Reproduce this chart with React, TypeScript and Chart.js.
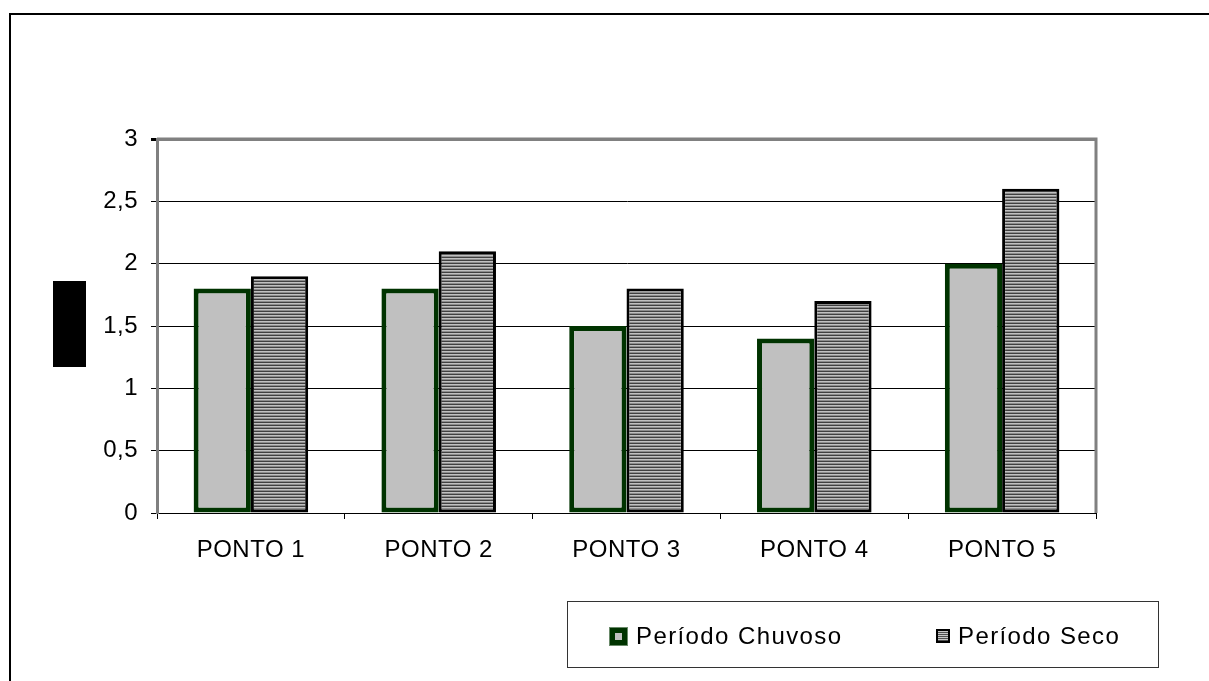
import React, { useEffect, useRef } from "react";
import { Chart, registerables } from "chart.js";

Chart.register(...registerables);

const categories = ["PONTO 1", "PONTO 2", "PONTO 3", "PONTO 4", "PONTO 5"];
const chuvoso = [1.8, 1.8, 1.5, 1.4, 2.0];
const seco = [1.9, 2.1, 1.8, 1.7, 2.6];
const seriesNames = ["Período Chuvoso", "Período Seco"];

function makeStripes(): CanvasPattern | string {
  const c = document.createElement("canvas");
  c.width = 4;
  c.height = 3;
  const g = c.getContext("2d");
  if (!g) return "#909090";
  g.fillStyle = "#c0c0c0";
  g.fillRect(0, 0, 4, 1);
  g.fillStyle = "#8c8c8c";
  g.fillRect(0, 1, 4, 1);
  g.fillStyle = "#404040";
  g.fillRect(0, 2, 4, 1);
  const p = g.createPattern(c, "repeat");
  return p || "#909090";
}

const framePlugin = {
  id: "frame",
  beforeDraw(chart: any) {
    chart.ctx.letterSpacing = "0.5px";
  },
  afterDraw(chart: any) {
    const { ctx, chartArea } = chart;
    ctx.save();
    ctx.strokeStyle = "#808080";
    ctx.lineWidth = 3;
    ctx.beginPath();
    ctx.moveTo(chartArea.left, chartArea.top);
    ctx.lineTo(chartArea.right, chartArea.top);
    ctx.lineTo(chartArea.right, chartArea.bottom);
    ctx.stroke();
    ctx.restore();
  },
};

const FONT = "Liberation Sans, Arial, sans-serif";

export default function App() {
  const ref = useRef<HTMLCanvasElement>(null);
  useEffect(() => {
    document.body.style.margin = "0";
    if (!ref.current) return;
    const stripes = makeStripes();
    const chart = new Chart(ref.current, {
      type: "bar",
      data: {
        labels: categories,
        datasets: [
          {
            label: seriesNames[0],
            data: chuvoso,
            backgroundColor: "#c0c0c0",
            borderColor: "#003300",
            borderWidth: 5,
            borderSkipped: false,
            categoryPercentage: 0.61,
            barPercentage: 1,
          },
          {
            label: seriesNames[1],
            data: seco,
            backgroundColor: stripes as any,
            borderColor: "#000000",
            borderWidth: 3,
            borderSkipped: false,
            categoryPercentage: 0.61,
            barPercentage: 1,
          },
        ],
      },
      options: {
        animation: false,
        responsive: false,
        maintainAspectRatio: false,
        layout: { padding: { left: 0, top: 139, right: 113, bottom: 0 } },
        plugins: {
          legend: { display: false },
          tooltip: { enabled: false },
          title: { display: false },
        },
        scales: {
          x: {
            afterFit: (s: any) => {
              s.height = 168;
            },
            grid: {
              offset: true,
              drawOnChartArea: false,
              drawTicks: true,
              tickLength: 6,
              tickColor: "#000",
            },
            border: { color: "#000", width: 1 },
            ticks: {
              color: "#000",
              padding: 17,
              font: { family: FONT, size: 24 },
            },
          },
          y: {
            min: 0,
            max: 3,
            afterFit: (s: any) => {
              s.width = 157;
            },
            grid: {
              color: (c: any) => (c.tick && c.tick.value === 3 ? "#808080" : "#000"),
              lineWidth: (c: any) => (c.tick && c.tick.value === 3 ? 3 : 1),
              tickLength: 6,
              tickColor: "#000",
            },
            border: { color: "#808080", width: 3 },
            ticks: {
              stepSize: 0.5,
              color: "#000",
              padding: 13,
              font: { family: FONT, size: 24 },
              callback: (v: any) => String(v).replace(".", ","),
            },
          },
        },
      },
      plugins: [framePlugin],
    });
    return () => chart.destroy();
  }, []);

  const legendText: React.CSSProperties = {
    position: "absolute",
    top: 621,
    fontFamily: FONT,
    fontSize: 24,
    letterSpacing: "1.4px",
    color: "#000",
    lineHeight: "30px",
    whiteSpace: "nowrap",
  };

  return (
    <div style={{ position: "relative", width: 1209, height: 681, overflow: "hidden", background: "#fff" }}>
      <canvas ref={ref} width={1209} height={681} style={{ position: "absolute", left: 0, top: 0 }} />
      <div
        style={{
          position: "absolute",
          left: 9,
          top: 13,
          width: 1300,
          height: 800,
          borderTop: "2px solid #000",
          borderLeft: "2px solid #000",
          pointerEvents: "none",
        }}
      />
      <div style={{ position: "absolute", left: 53, top: 281, width: 33, height: 86, background: "#000" }} />
      <div
        style={{
          position: "absolute",
          left: 567,
          top: 601,
          width: 592,
          height: 67,
          border: "1px solid #333",
          boxSizing: "border-box",
        }}
      />
      <div
        style={{
          position: "absolute",
          left: 609,
          top: 627,
          width: 19,
          height: 19,
          background: "#003300",
          boxSizing: "border-box",
          border: "1px solid #6a8a6a",
        }}
      >
        <div style={{ position: "absolute", left: 5, top: 5, width: 7, height: 7, background: "#c0c0c0" }} />
      </div>
      <div style={{ ...legendText, left: 636 }}>{seriesNames[0]}</div>
      <div
        style={{
          position: "absolute",
          left: 936,
          top: 629,
          width: 14,
          height: 14,
          boxSizing: "border-box",
          border: "2px solid #000",
          background: "repeating-linear-gradient(to bottom, #c8c8c8 0px, #c8c8c8 1px, #505050 1px, #505050 2px)",
        }}
      />
      <div style={{ ...legendText, left: 958 }}>{seriesNames[1]}</div>
    </div>
  );
}
